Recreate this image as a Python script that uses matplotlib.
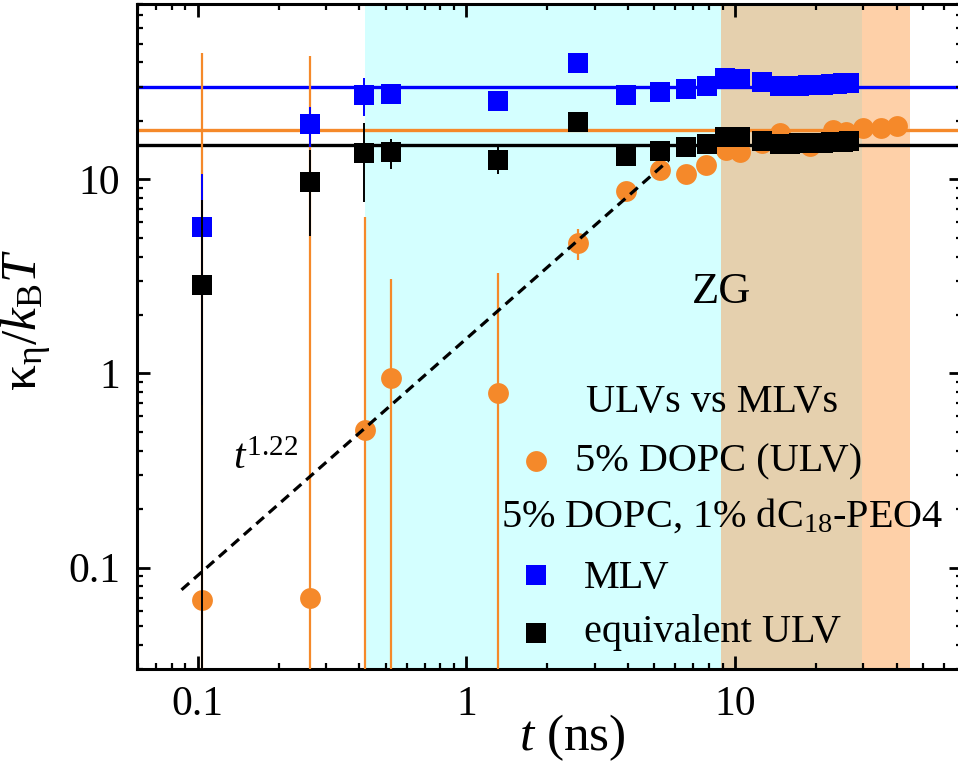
import numpy as np
import matplotlib
matplotlib.use('Agg')
import matplotlib.pyplot as plt
from matplotlib import ticker

plt.rcParams['font.family'] = ['Liberation Serif', 'DejaVu Serif']
plt.rcParams['mathtext.fontset'] = 'custom'
plt.rcParams['mathtext.rm'] = 'Liberation Serif'
plt.rcParams['mathtext.it'] = 'Liberation Serif:italic'
plt.rcParams['mathtext.bf'] = 'Liberation Serif:bold'

ORANGE = '#F5892A'
BLUE = '#0000FF'
BLACK = '#000000'

# 5% DOPC (ULV)
t_ulv = [0.104, 0.262, 0.42, 0.524, 1.31, 2.61, 3.94, 5.24, 6.56, 7.80,
         9.23, 10.4, 12.6, 14.7, 19.0, 23.2, 26.0, 30.0, 35.1, 40.2]
k_ulv = [0.068, 0.070, 0.51, 0.95, 0.79, 4.68, 8.73, 11.1, 10.6, 11.8,
         14.2, 13.9, 15.4, 17.3, 14.9, 17.9, 17.6, 18.3, 18.3, 18.8]
ulv_lo = [0.063, 0.065, 0.505, 0.945, 0.785, 0.84, 0.3, 0.3, 0.3, 0.3,
          0.3, 0.3, 0.3, 0.3, 0.3, 0.3, 0.3, 0.3, 0.3, 0.3]
ulv_hi = [44.5, 43.2, 5.86, 2.13, 2.51, 0.84, 0.3, 0.3, 0.3, 0.3,
          0.3, 0.3, 0.3, 0.3, 0.3, 0.3, 0.3, 0.3, 0.3, 0.3]

# 5% DOPC, 1% dC18-PEO4
t_sq = [0.104, 0.262, 0.417, 0.524, 1.31, 2.61, 3.94, 5.24, 6.56, 7.9,
        9.2, 10.4, 12.6, 14.7, 16.0, 17.3, 18.7, 20.0, 21.3, 22.7, 24.0, 25.3, 26.5]
k_mlv = [5.7, 19.3, 27.2, 27.6, 25.4, 39.6, 27.2, 28.1, 29.1, 30.3,
         33.2, 32.9, 31.6, 30.2, 30.3, 30.4, 30.5, 30.6, 30.7, 30.9, 31.0, 31.2, 31.4]
mlv_lo = [5.01, 4.6, 6.0, 0.8, 0.8, 0.6, 0.6, 0.5, 0.5, 0.5,
          0.5, 0.5, 0.5, 0.5, 0.5, 0.5, 0.5, 0.5, 0.5, 0.5, 0.5, 0.5, 0.5]
mlv_hi = [4.95, 4.4, 6.0, 0.8, 0.8, 0.6, 0.6, 0.5, 0.5, 0.5,
          0.5, 0.5, 0.5, 0.5, 0.5, 0.5, 0.5, 0.5, 0.5, 0.5, 0.5, 0.5, 0.5]
k_equiv = [2.85, 9.7, 13.6, 13.8, 12.6, 19.7, 13.2, 14.0, 14.6, 15.2,
           16.6, 16.6, 15.8, 15.2, 15.2, 15.3, 15.3, 15.4, 15.4, 15.5, 15.5, 15.6, 15.7]
equiv_lo = [2.845, 4.6, 6.0, 2.5, 1.9, 0.5, 0.5, 0.4, 0.4, 0.4,
            0.4, 0.4, 0.4, 0.4, 0.4, 0.4, 0.4, 0.4, 0.4, 0.4, 0.4, 0.4, 0.4]
equiv_hi = [4.95, 4.4, 5.9, 2.3, 2.0, 0.5, 0.5, 0.4, 0.4, 0.4,
            0.4, 0.4, 0.4, 0.4, 0.4, 0.4, 0.4, 0.4, 0.4, 0.4, 0.4, 0.4, 0.4]

# long-time plateaus
plateau_mlv = 30.0
plateau_ulv = 18.0
plateau_equiv = 15.1

# power-law fit t^1.22
fit_amp = 1.51
fit_exp = 1.22
fit_range = [0.087, 5.65]

# shaded time windows
spans = [(0.42, 8.9, '#D4FFFF'), (8.9, 29.7, '#E5D0AE'), (29.7, 44.7, '#FED0A8')]

fig = plt.figure(figsize=(9.58, 7.7), dpi=100)
ax = fig.add_axes([137/958, 1 - 669/770, 825/958, 665/770])
ax.set_xscale('log')
ax.set_yscale('log')

for x0, x1, c in spans:
    ax.axvspan(x0, x1, color=c, lw=0, zorder=0)

ax.axhline(plateau_mlv, color=BLUE, lw=2.4, zorder=1)
ax.axhline(plateau_ulv, color=ORANGE, lw=2.4, zorder=1)
ax.axhline(plateau_equiv, color=BLACK, lw=2.4, zorder=1)

ax.errorbar(t_ulv, k_ulv, yerr=[ulv_lo, ulv_hi], fmt='o', color=ORANGE,
            ms=15, mew=0, elinewidth=1.6, capsize=5.3, capthick=1.6, zorder=3)
ax.errorbar(t_sq, k_mlv, yerr=[mlv_lo, mlv_hi], fmt='s', color=BLUE,
            ms=14, mew=0, elinewidth=1.4, capsize=5.3, capthick=1.6, zorder=4)
ax.errorbar(t_sq, k_equiv, yerr=[equiv_lo, equiv_hi], fmt='s', color=BLACK,
            ms=14, mew=0, elinewidth=1.4, capsize=5.3, capthick=1.6, zorder=5)

tf = np.logspace(np.log10(fit_range[0]), np.log10(fit_range[1]), 50)
ax.plot(tf, fit_amp * tf**fit_exp, color='black', lw=2.3, ls=(0, (3.2, 2.0)), zorder=6)

ax.text(0.135, 0.32, r'$t^{1.22}$', fontsize=30, va='baseline')
ax.text(8.9, 2.3, 'ZG', fontsize=32, ha='center', va='baseline')

# legend block
ax.text(0.6976, 0.3869, 'ULVs vs MLVs', transform=ax.transAxes, fontsize=29,
        ha='center', va='baseline')
ax.plot([0.4836], [0.3128], 'o', color=ORANGE, ms=15, mew=0, transform=ax.transAxes)
ax.text(0.5309, 0.2967, '5% DOPC (ULV)', transform=ax.transAxes, fontsize=29, va='baseline')
ax.text(0.4408, 0.2140, r'5% DOPC, 1% dC$_{18}$-PEO4', transform=ax.transAxes,
        fontsize=29, va='baseline')
ax.plot([0.4836], [0.1414], 's', color=BLUE, ms=14, mew=0, transform=ax.transAxes)
ax.text(0.5418, 0.1218, 'MLV', transform=ax.transAxes, fontsize=29, va='baseline')
ax.plot([0.4836], [0.0546], 's', color=BLACK, ms=14, mew=0, transform=ax.transAxes)
ax.text(0.5418, 0.0411, 'equivalent ULV', transform=ax.transAxes, fontsize=29, va='baseline')

ax.set_xlim(0.0594, 70)
ax.set_ylim(0.03, 80)

fmt = ticker.FuncFormatter(lambda v, _: f'{v:g}')
for axis in (ax.xaxis, ax.yaxis):
    axis.set_major_locator(ticker.LogLocator(base=10, numticks=10))
    axis.set_minor_locator(ticker.LogLocator(base=10, subs=np.arange(2, 10), numticks=10))
    axis.set_major_formatter(fmt)
    axis.set_minor_formatter(ticker.NullFormatter())

ax.tick_params(which='both', direction='in', top=True, right=True, labelsize=30)
ax.tick_params(which='major', length=9.5, width=2.0, pad=12)
ax.tick_params(which='minor', length=4.5, width=1.6)
for sp in ax.spines.values():
    sp.set_linewidth(2.2)

ax.set_xlabel(r'$t$ (ns)', fontsize=37)
ax.xaxis.set_label_coords(0.528, -0.065)
ax.set_ylabel(r'$\mathrm{κ}_\mathrm{η}/k_\mathrm{B}T$', fontsize=37)
ax.yaxis.set_label_coords(-0.10, 0.525)

fig.savefig('out.png', dpi=100)
